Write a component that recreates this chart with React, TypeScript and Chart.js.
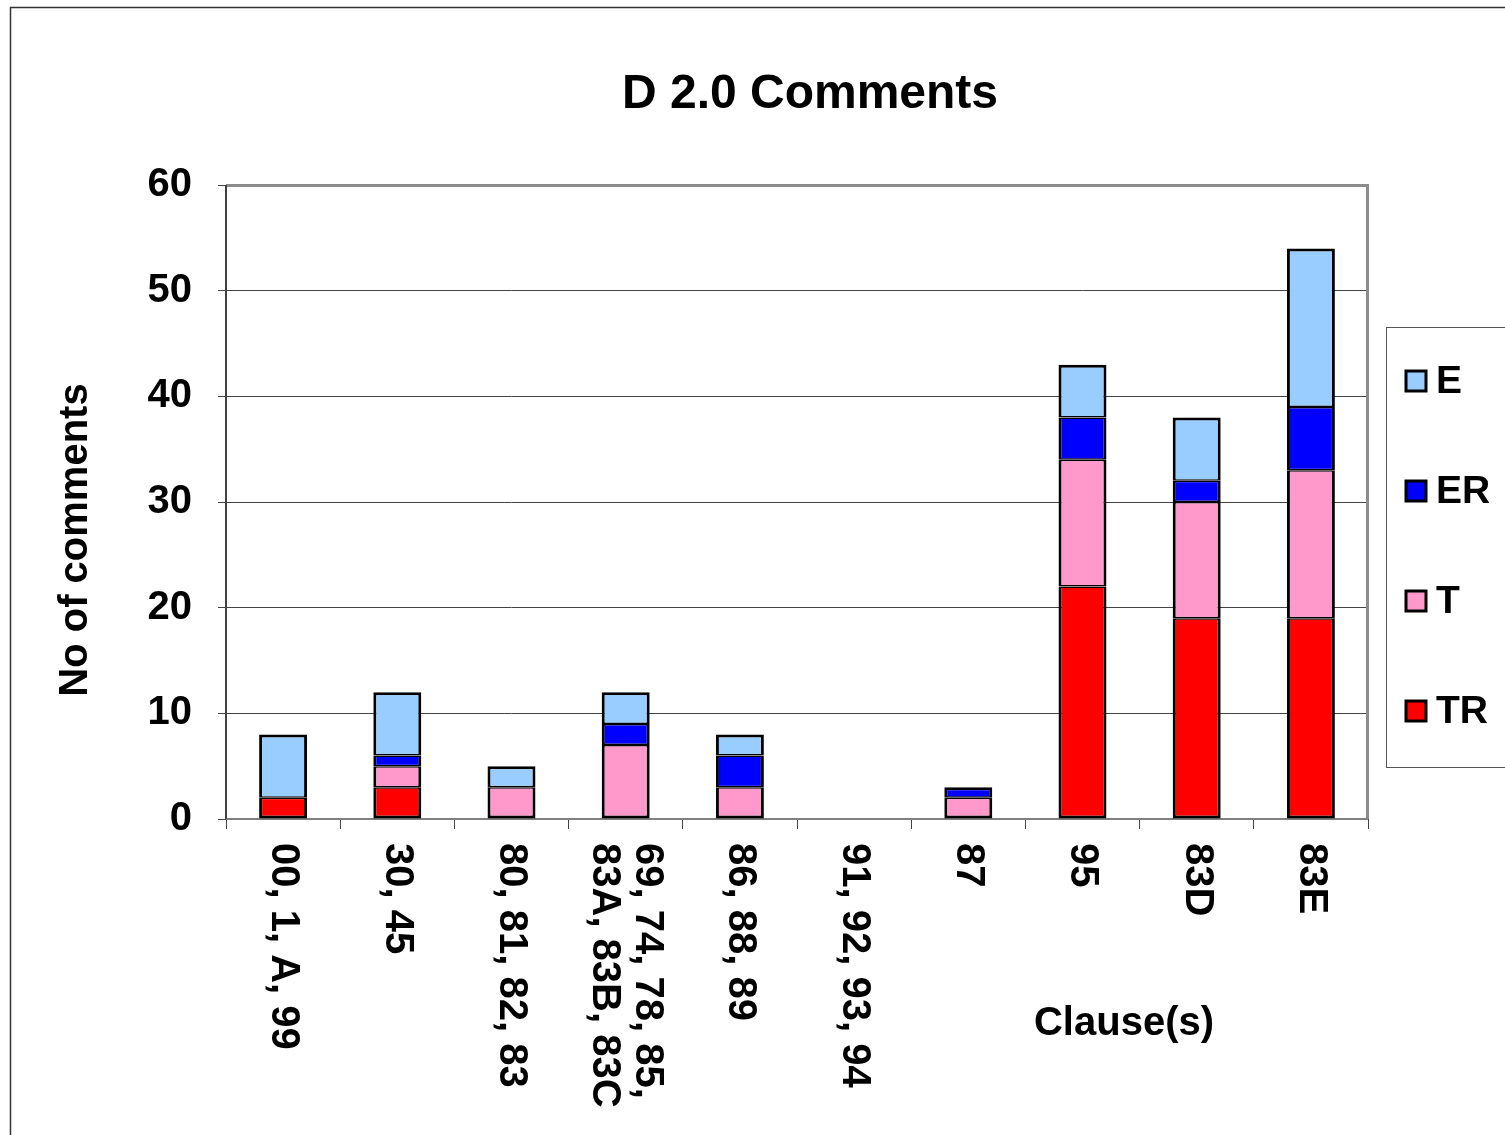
import React, { useEffect, useRef } from 'react';
import { Chart, registerables } from 'chart.js';

Chart.register(...registerables);

const categories: string[][] = [
  ['00, 1, A, 99'],
  ['30, 45'],
  ['80, 81, 82, 83'],
  ['69, 74, 78, 85,', '83A, 83B, 83C'],
  ['86, 88, 89'],
  ['91, 92, 93, 94'],
  ['87'],
  ['95'],
  ['83D'],
  ['83E'],
];
const seriesTR = [2, 3, 0, 0, 0, 0, 0, 22, 19, 19];
const seriesT = [0, 2, 3, 7, 3, 0, 2, 12, 11, 14];
const seriesER = [0, 1, 0, 2, 3, 0, 1, 4, 2, 6];
const seriesE = [6, 6, 2, 3, 2, 0, 0, 5, 6, 15];
const yTicks = [0, 10, 20, 30, 40, 50, 60];
const chartTitle = 'D 2.0 Comments';
const yTitle = 'No of comments';
const xTitle = 'Clause(s)';

const FONT = '"Liberation Sans", Arial, Helvetica, sans-serif';

const decor = {
  id: 'decor',
  beforeDatasetsDraw(chart: any) {
    const { ctx, chartArea: a } = chart;
    ctx.save();
    ctx.strokeStyle = '#8c8c8c';
    ctx.lineWidth = 3;
    ctx.beginPath();
    ctx.moveTo(a.left, a.top + 0.5);
    ctx.lineTo(a.right - 0.5, a.top + 0.5);
    ctx.lineTo(a.right - 0.5, a.bottom);
    ctx.stroke();
    ctx.strokeStyle = '#808080';
    ctx.lineWidth = 2;
    ctx.beginPath();
    ctx.moveTo(a.left, a.bottom);
    ctx.lineTo(a.right, a.bottom);
    ctx.stroke();
    ctx.strokeStyle = '#404040';
    ctx.lineWidth = 2;
    ctx.beginPath();
    ctx.moveTo(a.left, a.top);
    ctx.lineTo(a.left, a.bottom);
    ctx.stroke();
    ctx.restore();
  },
  afterDraw(chart: any) {
    const { ctx, scales } = chart;
    const xs = scales.x;
    ctx.save();
    ctx.strokeStyle = '#333';
    ctx.lineWidth = 1.5;
    ctx.beginPath();
    ctx.moveTo(10.5, 1300);
    ctx.lineTo(10.5, 7.5);
    ctx.lineTo(1700, 7.5);
    ctx.stroke();

    ctx.fillStyle = '#000';
    ctx.font = `bold 48px ${FONT}`;
    ctx.textAlign = 'center';
    ctx.textBaseline = 'middle';
    ctx.fillText(chartTitle, 810, 95);

    ctx.save();
    ctx.translate(76, 540);
    ctx.rotate(-Math.PI / 2);
    ctx.font = `bold 40px ${FONT}`;
    ctx.textAlign = 'center';
    ctx.textBaseline = 'middle';
    ctx.fillText(yTitle, 0, 0);
    ctx.restore();

    ctx.font = `bold 40px ${FONT}`;
    ctx.textAlign = 'center';
    ctx.textBaseline = 'middle';
    ctx.fillText(xTitle, 1124, 1024);

    ctx.font = `bold 40px ${FONT}`;
    categories.forEach((lines, i) => {
      const cx = xs.getPixelForValue(i);
      ctx.save();
      ctx.translate(cx, 843);
      ctx.rotate(Math.PI / 2);
      ctx.textAlign = 'left';
      ctx.textBaseline = 'middle';
      const n = lines.length;
      lines.forEach((ln, k) => {
        ctx.fillText(ln, 0, (k - (n - 1) / 2) * 43);
      });
      ctx.restore();
    });

    const lx = 1386.5;
    const ly = 327.5;
    ctx.fillStyle = '#fff';
    ctx.fillRect(lx, ly, 200, 440);
    ctx.strokeStyle = '#555';
    ctx.lineWidth = 1;
    ctx.strokeRect(lx, ly, 200, 440);
    const ds = [...chart.data.datasets].reverse();
    ds.forEach((d: any, k: number) => {
      const cy = 381 + k * 110;
      ctx.fillStyle = d.backgroundColor;
      ctx.fillRect(1406, cy - 10, 20, 20);
      ctx.strokeStyle = '#000';
      ctx.lineWidth = 3;
      ctx.strokeRect(1406, cy - 10, 20, 20);
      ctx.fillStyle = '#000';
      ctx.font = `bold 39px ${FONT}`;
      ctx.textAlign = 'left';
      ctx.textBaseline = 'middle';
      ctx.fillText(d.label, 1436, cy + 1);
    });
    ctx.restore();
  },
};

export default function App() {
  const ref = useRef<HTMLCanvasElement | null>(null);
  useEffect(() => {
    if (!ref.current) return;
    const stack = [seriesTR, seriesT, seriesER, seriesE];
    const bw = (c: any) => {
      const di = c.datasetIndex;
      const i = c.dataIndex;
      const v = stack[di][i];
      if (!v) return 0;
      const topmost = stack.slice(di + 1).every((s) => !s[i]);
      const bottommost = stack.slice(0, di).every((s) => !s[i]);
      return { left: 3, right: 3, top: topmost ? 3 : 1.5, bottom: bottommost ? 3 : 1.5 };
    };
    const mk = (label: string, data: number[], color: string) => ({
      label,
      data,
      backgroundColor: color,
      borderColor: '#000',
      borderWidth: bw,
      borderSkipped: false,
      barPercentage: 0.42,
      categoryPercentage: 1,
    });
    const chart = new Chart(ref.current, {
      type: 'bar',
      data: {
        labels: categories,
        datasets: [
          mk('TR', seriesTR, '#FF0000'),
          mk('T', seriesT, '#FF99CC'),
          mk('ER', seriesER, '#0000FF'),
          mk('E', seriesE, '#99CCFF'),
        ],
      },
      options: {
        animation: false,
        responsive: false,
        layout: { padding: { top: 185, right: 137, left: 0, bottom: 0 } },
        plugins: {
          legend: { display: false },
          title: { display: false },
          tooltip: { enabled: false },
        },
        scales: {
          x: {
            stacked: true,
            offset: true,
            ticks: { display: false },
            grid: {
              drawOnChartArea: false,
              drawTicks: true,
              tickLength: 10,
              color: '#444',
              lineWidth: 1,
              offset: true,
            },
            border: { display: false },
            afterFit: (s: any) => {
              s.height = 316;
            },
          },
          y: {
            stacked: true,
            min: 0,
            max: 60,
            afterBuildTicks: (s: any) => {
              s.ticks = yTicks.map((v) => ({ value: v }));
            },
            ticks: {
              color: '#000',
              padding: 26,
              font: { size: 40, weight: 'bold', family: FONT },
            },
            grid: {
              color: '#444',
              lineWidth: 1,
              drawTicks: true,
              tickLength: 8,
            },
            border: { display: false },
            afterFit: (s: any) => {
              s.width = 226;
            },
          },
        },
      },
      plugins: [decor],
    } as any);
    return () => chart.destroy();
  }, []);
  return (
    <div style={{ position: 'absolute', left: 0, top: 0, width: 1505, height: 1135, background: '#fff', overflow: 'hidden' }}>
      <canvas ref={ref} width={1505} height={1135} style={{ display: 'block' }} />
    </div>
  );
}
